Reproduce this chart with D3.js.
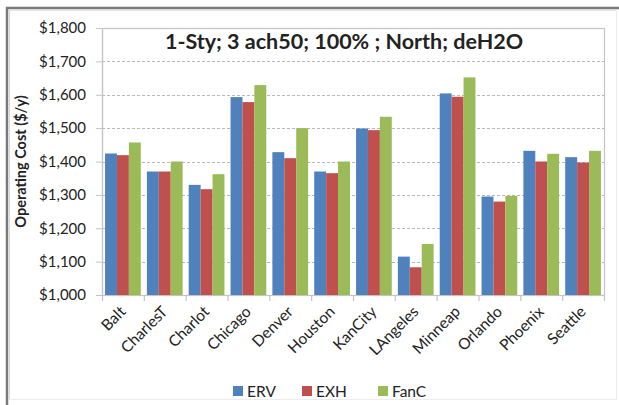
<!DOCTYPE html>
<html>
<head>
<meta charset="utf-8">
<script src="https://cdn.jsdelivr.net/npm/d3@7"></script>
<style>
  html, body { margin: 0; padding: 0; background: #fff; }
  svg { display: block; }
  text { font-family: Lato, "Open Sans", sans-serif; fill: #222; }
</style>
</head>
<body>
<svg id="chart" width="619" height="405"></svg>
<script>
// Annual operating cost by city for three ventilation strategies
const cities = ["Balt", "CharlesT", "Charlot", "Chicago", "Denver", "Houston",
                "KanCity", "LAngeles", "Minneap", "Orlando", "Phoenix", "Seattle"];
const seriesNames = ["ERV", "EXH", "FanC"];
const erv  = [1424, 1370, 1330, 1593, 1428, 1370, 1499, 1115, 1604, 1295, 1432, 1413];
const exh  = [1419, 1370, 1317, 1578, 1410, 1365, 1494, 1083, 1594, 1280, 1400, 1397];
const fanC = [1457, 1400, 1362, 1629, 1500, 1400, 1534, 1153, 1652, 1297, 1423, 1432];
const yTicks = [1000, 1100, 1200, 1300, 1400, 1500, 1600, 1700, 1800];
const colors = ["#4F81BD", "#C0504D", "#9BBB59"];
const titleText = "1-Sty; 3 ach50; 100% ; North; deH2O";
const yLabel = "Operating Cost ($/y)";

const seriesValues = [erv, exh, fanC];
const rows = cities.map((c, i) => ({ city: c, values: seriesValues.map(s => s[i]) }));

const svg = d3.select("#chart");
const W = 619, H = 405;
const plot = { left: 102, right: 604, top: 28, bottom: 295 };

// outer frame
svg.append("rect").attr("x", 0).attr("y", 0).attr("width", W).attr("height", H).attr("fill", "#fff");
svg.append("line").attr("x1", 6).attr("x2", W).attr("y1", 8).attr("y2", 8)
  .attr("stroke", "#7a7a7a").attr("stroke-width", 2.5);
svg.append("line").attr("x1", 7).attr("x2", 7).attr("y1", 7).attr("y2", H)
  .attr("stroke", "#7a7a7a").attr("stroke-width", 2.5);
svg.append("line").attr("x1", 9.5).attr("x2", 9.5).attr("y1", 10).attr("y2", 399)
  .attr("stroke", "#d8d8d8").attr("stroke-width", 1);
svg.append("line").attr("x1", 9).attr("x2", 617).attr("y1", 10.5).attr("y2", 10.5)
  .attr("stroke", "#e4e4e4").attr("stroke-width", 1);
svg.append("line").attr("x1", 9).attr("x2", 617).attr("y1", 399.5).attr("y2", 399.5)
  .attr("stroke", "#ececec").attr("stroke-width", 1);
svg.append("line").attr("x1", 616.5).attr("x2", 616.5).attr("y1", 10).attr("y2", 400)
  .attr("stroke", "#ececec").attr("stroke-width", 1);

const y = d3.scaleLinear().domain([1000, 1800]).range([plot.bottom, plot.top]);
const x0 = d3.scaleBand().domain(cities).range([plot.left, plot.right])
  .paddingInner(0.146).paddingOuter(0.073);
const x1 = d3.scaleBand().domain(seriesNames).range([0, x0.bandwidth()]);

// gridlines
svg.append("g").selectAll("line")
  .data(yTicks.filter(t => t > 1000 && t < 1800))
  .join("line")
  .attr("x1", plot.left).attr("x2", plot.right)
  .attr("y1", d => Math.round(y(d)) + 0.5).attr("y2", d => Math.round(y(d)) + 0.5)
  .attr("stroke", "#b8b8b8").attr("stroke-width", 1).attr("stroke-dasharray", "3,2");

// plot area border
svg.append("rect")
  .attr("x", plot.left + 0.5).attr("y", plot.top + 0.5)
  .attr("width", plot.right - plot.left).attr("height", plot.bottom - plot.top)
  .attr("fill", "none").attr("stroke", "#c4c4c4").attr("stroke-width", 1.2);

// bars
svg.append("g").selectAll("g")
  .data(rows)
  .join("g")
  .attr("transform", d => `translate(${x0(d.city)},0)`)
  .selectAll("rect")
  .data(d => d.values.map((v, k) => ({ name: seriesNames[k], value: v, k })))
  .join("rect")
  .attr("x", d => x1(d.name))
  .attr("width", x1.bandwidth())
  .attr("y", d => y(d.value))
  .attr("height", d => y(1000) - y(d.value))
  .attr("fill", d => colors[d.k]);

// y axis
const yAxis = d3.axisLeft(y).tickValues(yTicks).tickSize(6).tickPadding(10)
  .tickFormat(d => "$" + d3.format(",")(d));
const gy = svg.append("g").attr("transform", `translate(${plot.left},0)`).call(yAxis);
gy.select(".domain").attr("stroke", "#c4c4c4").attr("stroke-width", 1.2);
gy.selectAll(".tick line").attr("stroke", "#c4c4c4");
gy.selectAll(".tick text").attr("font-size", 15).attr("fill", "#333")
  .style("font-family", 'Lato, sans-serif');

// x axis: ticks at category boundaries
const boundaries = cities.map((c, i) => plot.left + i * (plot.right - plot.left) / cities.length)
  .concat([plot.right]);
svg.append("g").selectAll("line")
  .data(boundaries)
  .join("line")
  .attr("x1", d => d + 0.5).attr("x2", d => d + 0.5)
  .attr("y1", plot.bottom).attr("y2", plot.bottom + 6)
  .attr("stroke", "#c4c4c4").attr("stroke-width", 1.2);
svg.append("line")
  .attr("x1", plot.left).attr("x2", plot.right)
  .attr("y1", plot.bottom + 0.5).attr("y2", plot.bottom + 0.5)
  .attr("stroke", "#c4c4c4").attr("stroke-width", 1.2);

svg.append("g").selectAll("text")
  .data(cities)
  .join("text")
  .attr("transform", d => `translate(${x0(d) + x0.bandwidth() / 2 - 4},${plot.bottom + 10}) rotate(-45)`)
  .attr("text-anchor", "end")
  .attr("dy", "0.7em")
  .attr("font-size", 15.5)
  .attr("fill", "#333")
  .text(d => d);

// title
svg.append("text")
  .attr("x", 344).attr("y", 49)
  .attr("text-anchor", "middle")
  .attr("font-size", 21.5).attr("font-weight", "bold")
  .attr("fill", "#111")
  .text(titleText);

// y axis label
svg.append("text")
  .attr("transform", `translate(26,${(plot.top + plot.bottom) / 2}) rotate(-90)`)
  .attr("text-anchor", "middle")
  .attr("font-size", 14.5).attr("font-weight", "bold")
  .attr("fill", "#111")
  .text(yLabel);

// legend
const legendX = [233, 302, 378];
const lg = svg.append("g").selectAll("g")
  .data(seriesNames)
  .join("g")
  .attr("transform", (d, i) => `translate(${legendX[i]},386)`);
lg.append("rect").attr("width", 10).attr("height", 10).attr("fill", (d, i) => colors[i]);
lg.append("text").attr("x", 14).attr("y", 5).attr("dy", "0.36em")
  .attr("font-size", 15.5).attr("fill", "#333").text(d => d);
</script>
</body>
</html>
